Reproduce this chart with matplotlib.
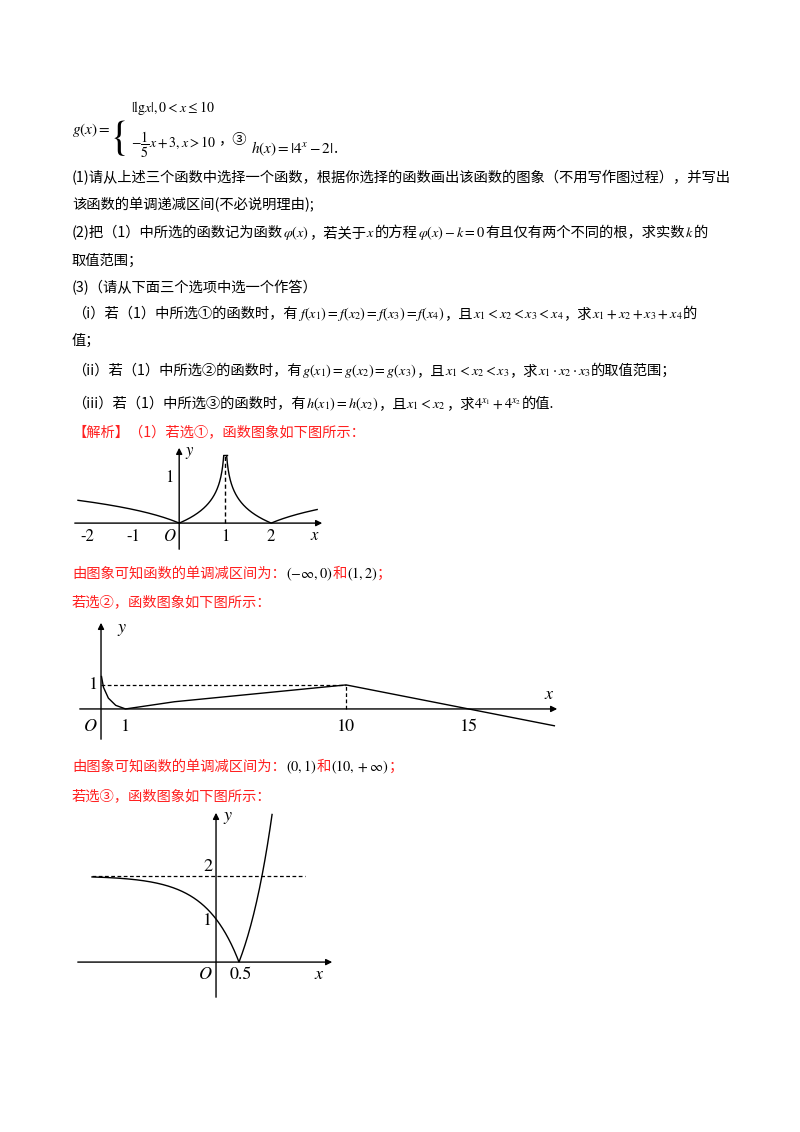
import numpy as np
import matplotlib
matplotlib.use("Agg")
import matplotlib.pyplot as plt

plt.rcParams['font.family'] = ['Noto Sans CJK SC', 'DejaVu Sans']
plt.rcParams['mathtext.fontset'] = 'stix'

W, H = 800, 1132
RED = '#ff2020'

# graph 2: points (x, g(x))
g_x = [0.02, 0.1, 0.3, 0.6, 1, 3, 5.5, 8, 10, 15, 18.5]
g_y = [1.35, 0.9, 0.45, 0.15, 0, 0.3, 0.55, 0.8, 1, 0, -0.7]

fig = plt.figure(figsize=(W / 100, H / 100), dpi=100)
fig.patch.set_facecolor('white')
renderer = fig.canvas.get_renderer()
FS = 10.3


def put(x, y, pieces, fs=FS):
    # pieces drawn one after another, x/y in page pixels (baseline)
    for txt, col in pieces:
        t = fig.text(x / W, 1 - y / H, txt, color=col, fontsize=fs, va='baseline', ha='left')
        x += t.get_window_extent(renderer).width
    return x


def make_ax(l, t, r, b, xlim, ylim):
    ax = fig.add_axes([l / W, 1 - b / H, (r - l) / W, (b - t) / H])
    ax.set_xlim(xlim)
    ax.set_ylim(ylim)
    ax.axis('off')
    ax.annotate('', xy=(xlim[1], 0), xytext=(xlim[0], 0),
                arrowprops=dict(arrowstyle='-|>', color='black', lw=1, mutation_scale=9))
    ax.annotate('', xy=(0, ylim[1]), xytext=(0, ylim[0]),
                arrowprops=dict(arrowstyle='-|>', color='black', lw=1, mutation_scale=9))
    return ax


def lab(ax, x, y, s, ha='center', fs=12):
    ax.text(x, y, s, fontsize=fs, ha=ha, va='center', family='STIXGeneral')


k = 'black'
# ---- header text
put(72, 134, [(r'$g\left(x\right)=$', k)], fs=11)
fig.text(110 / W, 1 - 148 / H, '{', fontsize=30, va='baseline', family='STIXGeneral', weight='normal')
put(131, 112, [(r'$|\mathrm{lg}x|,0<x\leq10$', k)], fs=10)
end = put(131, 148, [(r'$-\dfrac{1}{5}x+3,x>10$', k)], fs=10)
end = put(end + 2, 143, [('，③', k)])
put(end + 4, 153, [(r'$h\left(x\right)=\left|4^{x}-2\right|$', k), ('.', k)], fs=11)

put(72, 182, [('(1)请从上述三个函数中选择一个函数，根据你选择的函数画出该函数的图象（不用写作图过程），并写出', k)])
put(72, 209, [('该函数的单调递减区间(不必说明理由);', k)])
put(72, 237, [('(2)把（1）中所选的函数记为函数', k), (r'$\varphi(x)$', k), ('，若关于', k), (r'$x$', k),
              ('的方程', k), (r'$\varphi(x)-k=0$', k), ('有且仅有两个不同的根，求实数', k), (r'$k$', k), ('的', k)])
put(72, 265, [('取值范围；', k)])
put(72, 292, [('(3)（请从下面三个选项中选一个作答）', k)])
put(72, 318, [('（i）若（1）中所选①的函数时，有', k), (r'$f(x_1)=f(x_2)=f(x_3)=f(x_4)$', k), ('，且', k),
              (r'$x_1<x_2<x_3<x_4$', k), ('，求', k), (r'$x_1+x_2+x_3+x_4$', k), ('的', k)])
put(72, 345, [('值；', k)])
put(72, 375, [('（ii）若（1）中所选②的函数时，有', k), (r'$g(x_1)=g(x_2)=g(x_3)$', k), ('，且', k),
              (r'$x_1<x_2<x_3$', k), ('，求', k), (r'$x_1\cdot x_2\cdot x_3$', k), ('的取值范围；', k)])
put(72, 408, [('（iii）若（1）中所选③的函数时，有', k), (r'$h(x_1)=h(x_2)$', k), ('，且', k),
              (r'$x_1<x_2$', k), ('，求', k), (r'$4^{x_1}+4^{x_2}$', k), ('的值.', k)])
put(72, 437, [('【解析】（1）若选①，函数图象如下图所示：', RED)])
put(72, 578, [('由图象可知函数的单调减区间为：', RED), (r'$\left(-\infty,0\right)$', k), ('和', RED),
              (r'$\left(1,2\right)$', k), ('；', RED)])
put(72, 606, [('若选②，函数图象如下图所示：', RED)])
put(72, 771, [('由图象可知函数的单调减区间为：', RED), (r'$\left(0,1\right)$', k), ('和', RED),
              (r'$\left(10,+\infty\right)$', k), ('；', RED)])
put(72, 800, [('若选③，函数图象如下图所示：', RED)])

# ---- graph 1: f(x) = |lg|x-1||
ax1 = make_ax(72, 445, 325, 552, (-2.33, 3.17), (-0.64, 1.73))
xa = np.linspace(-2.2, 0.968, 400)
xb = np.linspace(1.032, 3.0, 400)
ax1.plot(xa, np.minimum(np.abs(np.log10(np.abs(xa - 1))), 1.5), color='black', lw=1)
ax1.plot(xb, np.minimum(np.abs(np.log10(np.abs(xb - 1))), 1.5), color='black', lw=1)
ax1.plot([0.968, 1.032], [1.5, 1.5], color='black', lw=1)
ax1.plot([1, 1], [0, 1.5], color='black', lw=1, ls=(0, (3, 2)))
lab(ax1, -0.12, 1.0, '1', ha='right')
lab(ax1, 0.22, 1.55, '$y$')
for xv, s in [(-2, '-2'), (-1, '-1'), (1, '1'), (2, '2')]:
    lab(ax1, xv, -0.3, s)
lab(ax1, -0.2, -0.3, '$O$')
lab(ax1, 2.95, -0.28, '$x$')

# ---- graph 2: g(x)
ax2 = make_ax(77, 620, 560, 742, (-0.98, 18.73), (-1.375, 3.7))
ax2.plot(g_x, g_y, color='black', lw=1)
ax2.plot([0, 10], [1, 1], color='black', lw=0.9, ls=(0, (3, 2)))
ax2.plot([10, 10], [0, 1], color='black', lw=0.9, ls=(0, (3, 2)))
lab(ax2, -0.1, 1.0, '1', ha='right', fs=13)
lab(ax2, 0.85, 3.3, '$y$', fs=13)
lab(ax2, -0.45, -0.75, '$O$', fs=13)
for xv, s in [(1, '1'), (10, '10'), (15, '15')]:
    lab(ax2, xv, -0.75, s, fs=13)
lab(ax2, 18.3, 0.6, '$x$', fs=13)

# ---- graph 3: h(x) = |4^x - 2|
ax3 = make_ax(75, 810, 335, 1000, (-3.07, 2.59), (-0.88, 3.53))
xh = np.linspace(-2.7, 1.22, 500)
ax3.plot(xh, np.abs(4.0 ** xh - 2), color='black', lw=1)
ax3.plot([-2.7, 1.93], [2, 2], color='black', lw=0.9, ls=(0, (3, 2)))
lab(ax3, -0.08, 2.2, '2', ha='right', fs=13)
lab(ax3, -0.08, 0.95, '1', ha='right', fs=13)
lab(ax3, 0.27, 3.35, '$y$', fs=13)
lab(ax3, -0.23, -0.3, '$O$', fs=13)
lab(ax3, 0.55, -0.3, '0.5', fs=13)
lab(ax3, 2.25, -0.3, '$x$', fs=13)

fig.savefig('out.png', dpi=100, facecolor='white')
